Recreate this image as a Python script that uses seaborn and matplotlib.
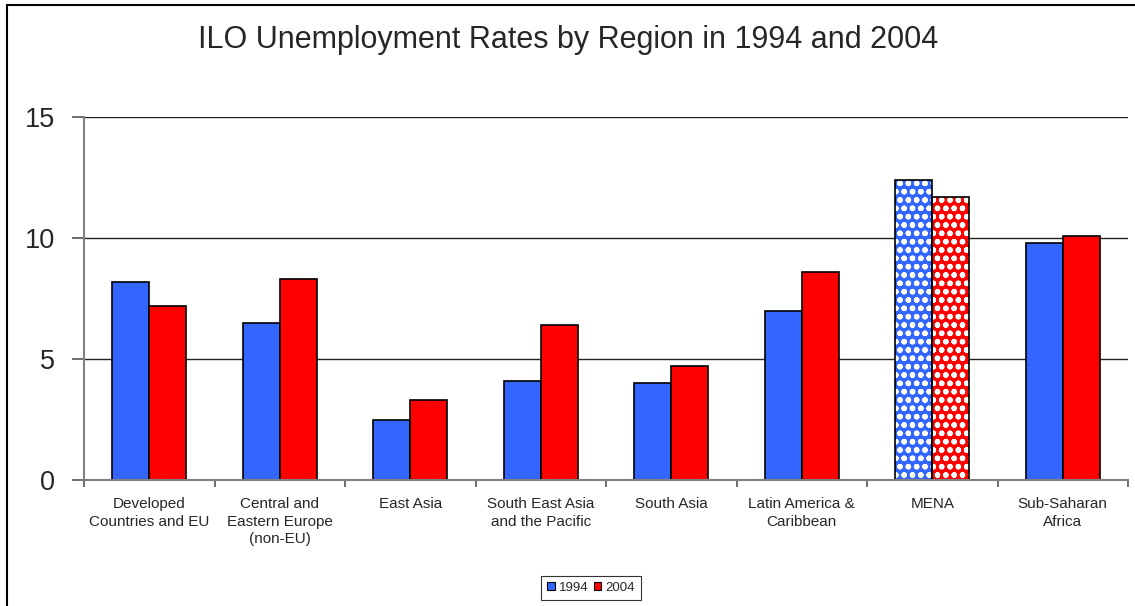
import matplotlib
matplotlib.use("Agg")
import matplotlib.pyplot as plt
import matplotlib.patches as mpatches
import seaborn as sns
import pandas as pd

categories = [
    "Developed\nCountries and EU",
    "Central and\nEastern Europe\n(non-EU)",
    "East Asia",
    "South East Asia\nand the Pacific",
    "South Asia",
    "Latin America &\nCaribbean",
    "MENA",
    "Sub-Saharan\nAfrica",
]
years = ["1994", "2004"]
rates_1994 = [8.2, 6.5, 2.5, 4.1, 4.0, 7.0, 12.4, 9.8]
rates_2004 = [7.2, 8.3, 3.3, 6.4, 4.7, 8.6, 11.7, 10.1]
hatched_category = "MENA"
y_ticks = [0, 5, 10, 15]
title = "ILO Unemployment Rates by Region in 1994 and 2004"

colors = {"1994": "#3366FF", "2004": "#FF0000"}

df = pd.DataFrame({
    "region": categories * 2,
    "year": [years[0]] * len(categories) + [years[1]] * len(categories),
    "rate": rates_1994 + rates_2004,
})

sns.set_style("white")
plt.rcParams["font.family"] = ["Liberation Sans", "DejaVu Sans"]
plt.rcParams["hatch.linewidth"] = 1.6

fig = plt.figure(figsize=(11.35, 6.06), dpi=100)
ax = fig.add_axes([84 / 1135, 1 - 480 / 606, (1128 - 84) / 1135, (480 - 117) / 606])

sns.barplot(data=df, x="region", y="rate", hue="year", order=categories,
            hue_order=years, palette=colors, width=0.57, gap=0,
            edgecolor="black", linewidth=1.2, saturation=1, ax=ax,
            legend=False, zorder=3)

# hatched pattern for MENA bars
mena_idx = categories.index(hatched_category)
n = len(categories)
bars = [p for p in ax.patches if isinstance(p, mpatches.Rectangle)]
for h in range(len(years)):
    p = bars[h * n + mena_idx]
    p.set_edgecolor("white")
    p.set_linewidth(0)
    p.set_hatch("oo")
    outline = mpatches.Rectangle(p.get_xy(), p.get_width(), p.get_height(),
                                 facecolor="none", edgecolor="black",
                                 linewidth=1.2, zorder=4)
    ax.add_patch(outline)

ax.set_ylim(0, 15)
ax.set_xlim(-0.5, n - 0.5)
ax.set_yticks(y_ticks)
ax.set_yticklabels([str(t) for t in y_ticks], fontsize=19.5)
ax.yaxis.grid(True, color="#222222", linewidth=1.0, zorder=0)
ax.set_axisbelow(True)
ax.set_xlabel("")
ax.set_ylabel("")

ax.tick_params(axis="x", which="major", length=0, pad=12, labelsize=11)
ax.set_xticks([i - 0.5 for i in range(n + 1)], minor=True)
ax.tick_params(axis="x", which="minor", length=5, width=1.2, color="#555555",
               direction="out", bottom=True)
ax.tick_params(axis="y", which="major", length=9, width=1.2, color="#555555",
               direction="out", left=True, pad=12)
for lab in ax.get_xticklabels():
    lab.set_linespacing(1.35)

for s in ["top", "right"]:
    ax.spines[s].set_visible(False)
for s in ["left", "bottom"]:
    ax.spines[s].set_color("#808080")
    ax.spines[s].set_linewidth(1.5)
    ax.spines[s].set_zorder(5)

fig.text(568 / 1135, 1 - 40 / 606, title, ha="center", va="center", fontsize=22)

handles = [mpatches.Patch(facecolor=colors[y], edgecolor="black", linewidth=0.8, label=y)
           for y in years]
leg = fig.legend(handles=handles, loc="center", bbox_to_anchor=(591 / 1135, 1 - 588 / 606),
                 ncol=2, fontsize=9.5, frameon=True, fancybox=False,
                 handlelength=0.55, handleheight=0.55, handletextpad=0.3,
                 columnspacing=0.45, borderpad=0.45, borderaxespad=0)
leg.get_frame().set_edgecolor("black")
leg.get_frame().set_linewidth(0.8)

# outer chart frame
frame = mpatches.Rectangle((7 / 1135, -0.1), 1.2, (1 - 5 / 606) + 0.1,
                           transform=fig.transFigure, facecolor="none",
                           edgecolor="black", linewidth=1.5)
fig.patches.append(frame)

fig.savefig("out.png", dpi=100)
